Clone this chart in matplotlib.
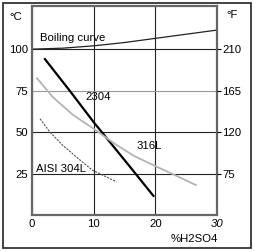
import matplotlib
matplotlib.use('Agg')
import matplotlib.pyplot as plt
from matplotlib.patches import Rectangle

plt.rcParams['font.family'] = ['Liberation Sans', 'DejaVu Sans']
fs = 8.2

# % H2SO4 vs temperature (°C)
boil_x = [0, 5, 10, 15, 20, 25, 30]
boil_y = [100, 100.6, 102, 104, 106.5, 109, 111.5]

d2304_x = [2.1, 6, 10, 15.8, 19.7]
d2304_y = [94, 75.5, 56, 29.5, 11.5]

s316_x = [0.8, 3.4, 6.6, 10, 13.4, 16.6, 20, 22.8, 26.6]
s316_y = [82.5, 71, 60.5, 52, 43, 35.5, 29.5, 24.7, 18]

a304_x = [1.3, 2.9, 5, 7.5, 9.8, 13.7]
a304_y = [58, 50, 42, 34, 27, 20]

yticks_c = [25, 50, 75, 100]
yticks_f = ['75', '120', '165', '210']
xticks = [0, 10, 20, 30]

fig = plt.figure(figsize=(2.54, 2.52), dpi=100)
ax = fig.add_axes([0.126, 0.147, 0.728, 0.829])

ax.plot(boil_x, boil_y, color='#222222', lw=0.9)
ax.plot(d2304_x, d2304_y, color='black', lw=1.6)
ax.plot(s316_x, s316_y, color='#b4b4b4', lw=1.3)
ax.plot(a304_x, a304_y, color='#555555', lw=0.8, ls=(0, (2, 1)))

ax.set_xlim(0, 30)
ax.set_ylim(0, 126)
ax.set_xticks(xticks)
ax.set_yticks(yticks_c)
ax.set_xticklabels([str(v) for v in xticks])
ax.get_xticklabels()[-1].set_style('italic')
ax.tick_params(axis='both', length=0, labelsize=fs, pad=3)
ax.grid(True, color='#222222', lw=0.8)
ax.get_ygridlines()[2].set_color('#999999')
ax.set_axisbelow(True)
for s in ax.spines.values():
    s.set_color('#666666')
    s.set_linewidth(1.6)

ax2 = ax.twinx()
ax2.set_ylim(ax.get_ylim())
ax2.set_yticks(yticks_c)
ax2.set_yticklabels(yticks_f)
ax2.tick_params(axis='y', length=3, width=0.8, labelsize=fs, pad=1)
for s in ax2.spines.values():
    s.set_visible(False)

ax.text(1.3, 107, 'Boiling curve', fontsize=fs, va='center', ha='left')
ax.text(10.8, 71, '2304', fontsize=fs, va='center', ha='center')
ax.text(19, 41.5, '316L', fontsize=fs, va='center', ha='center')
ax.text(4.7, 28, 'AISI 304L', fontsize=fs, va='center', ha='center')

fig.text(16 / 254, 1 - 17 / 252, '°C', fontsize=fs, ha='center', va='center')
fig.text(232 / 254, 1 - 15 / 252, '°F', fontsize=fs, ha='center', va='center')
fig.text(218 / 254, 1 - 239 / 252, '%H2SO4', fontsize=fs, ha='right', va='center')

fig.patches.append(Rectangle((0.01, 0.014), 0.98, 0.976, transform=fig.transFigure,
                             fill=False, edgecolor='#222222', lw=1.2))

fig.savefig('out.png', dpi=100)
